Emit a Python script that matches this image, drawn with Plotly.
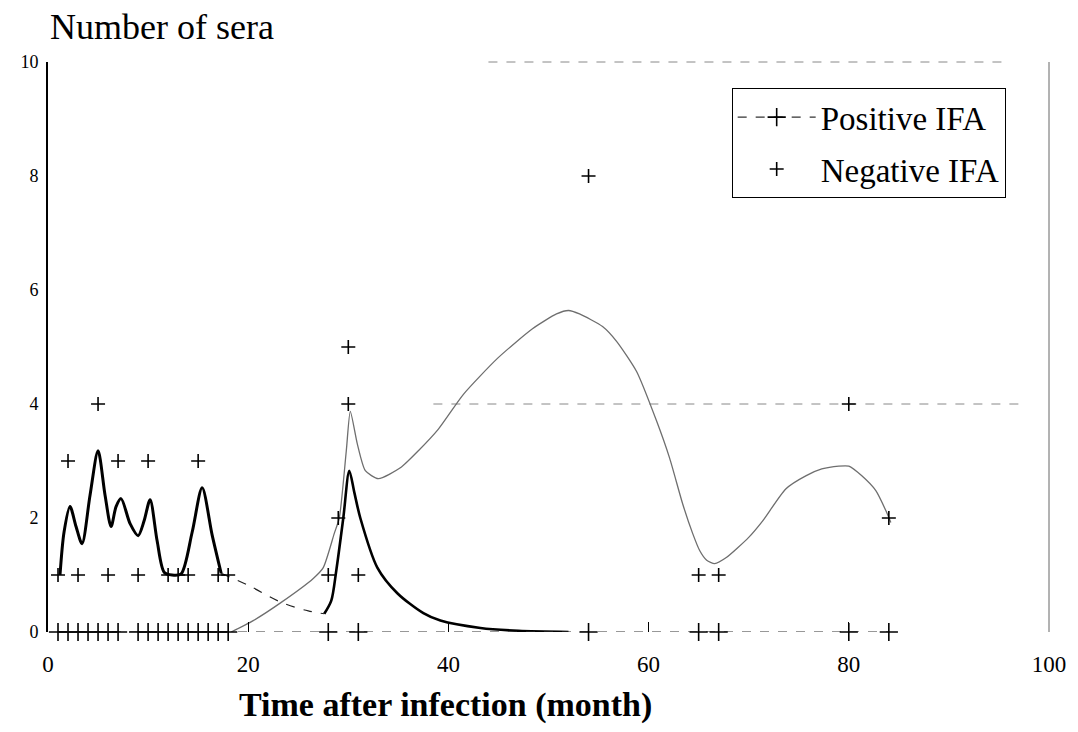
import plotly.graph_objects as go

# ---- data ----
pos_x = [1, 2, 3, 4, 5, 6, 7, 9, 10, 11, 12, 13, 14, 15, 16, 17, 18, 28, 31, 54, 65, 67, 80, 84]
pos_y = [0] * len(pos_x)

neg_x = [1, 3, 6, 9, 12, 13, 14, 17, 18, 28, 31, 65, 67,
         2, 7, 10, 15, 5, 30, 29, 84, 30, 54, 80]
neg_y = [1, 1, 1, 1, 1, 1, 1, 1, 1, 1, 1, 1, 1,
         3, 3, 3, 3, 4, 4, 2, 2, 5, 8, 4]

# smoothed curve (thick) - early part
curveA1_x = [1.2, 1.6, 2.2, 2.8, 3.4, 4.2, 5.0, 5.7, 6.3, 6.8, 7.3, 8.2, 9.0, 9.6, 10.2,
             10.9, 11.6, 12.4, 13.3, 14.4, 15.4, 16.4, 17.3]
curveA1_y = [1.0, 1.75, 2.2, 1.85, 1.55, 2.4, 3.18, 2.4, 1.85, 2.2, 2.34, 1.9, 1.69, 1.95, 2.32,
             1.6, 1.05, 1.0, 1.02, 1.75, 2.53, 1.7, 1.03]
# thin descending part
curveA2_x = [17.3, 20.0, 23.3, 26.0, 27.6]
curveA2_y = [1.03, 0.82, 0.52, 0.37, 0.32]
# thick peak and decay
curveA3_x = [27.6, 28.3, 28.8, 29.5, 30.1, 30.6, 31.2, 32.9, 34.9, 37.5, 39.2, 43.2, 47.0, 52.0]
curveA3_y = [0.32, 0.55, 1.08, 2.0, 2.83, 2.45, 2.0, 1.13, 0.68, 0.33, 0.2, 0.07, 0.02, 0.0]

# smoothed curve (thin grey)
curveB_x = [18.3, 20.5, 23.3, 26.5, 27.5, 28.6, 29.1, 29.8, 30.2, 30.9, 31.7, 33.0, 35.2, 37.0,
            39.0, 41.5, 44.9, 48.4, 50.8, 52.0, 53.1, 55.4, 56.8, 58.8, 60.8, 62.1, 63.4, 64.4,
            65.1, 65.8, 66.6, 67.8, 70.0, 71.4, 73.7, 75.7, 77.3, 79.0, 80.0, 81.3, 82.7, 83.7, 84.2]
curveB_y = [0.0, 0.2, 0.52, 0.94, 1.13, 1.73, 2.0, 3.18, 3.87, 3.3, 2.83, 2.69, 2.88, 3.18,
            3.56, 4.17, 4.8, 5.32, 5.58, 5.64, 5.58, 5.36, 5.1, 4.57, 3.7, 3.05, 2.25, 1.73,
            1.43, 1.26, 1.2, 1.31, 1.66, 1.95, 2.51, 2.74, 2.86, 2.91, 2.91, 2.74, 2.48, 2.13, 1.92]

x_ticks = [0, 20, 40, 60, 80, 100]
y_ticks = [0, 2, 4, 6, 8, 10]

SERIF = "Liberation Serif"

fig = go.Figure()

fig.add_trace(go.Scatter(x=curveB_x, y=curveB_y, mode="lines", showlegend=False,
                         line=dict(color="#6e6e6e", width=1.3, shape="spline", smoothing=0.6),
                         hoverinfo="skip"))
fig.add_trace(go.Scatter(x=curveA2_x, y=curveA2_y, mode="lines", showlegend=False,
                         line=dict(color="#222", width=1.2, dash="dash", shape="spline"),
                         hoverinfo="skip"))
fig.add_trace(go.Scatter(x=curveA1_x, y=curveA1_y, mode="lines", showlegend=False,
                         line=dict(color="black", width=3, shape="spline", smoothing=0.8),
                         hoverinfo="skip"))
fig.add_trace(go.Scatter(x=curveA3_x, y=curveA3_y, mode="lines", showlegend=False,
                         line=dict(color="black", width=2.6, shape="spline", smoothing=0.8),
                         hoverinfo="skip"))

fig.add_trace(go.Scatter(x=pos_x, y=pos_y, mode="lines+markers", name="Positive IFA",
                         legendgroup="p", cliponaxis=False,
                         line=dict(color="#333", width=1.2, dash="dash"),
                         marker=dict(symbol="cross-thin", size=13, line=dict(color="black", width=1.6))))
fig.add_trace(go.Scatter(x=neg_x, y=neg_y, mode="markers", name="Negative IFA",
                         legendgroup="n", cliponaxis=False,
                         marker=dict(symbol="cross-thin", size=10, line=dict(color="black", width=1.6))))

fig.update_layout(
    width=1070, height=724,
    margin=dict(l=38, r=26, t=54, b=100),
    paper_bgcolor="white", plot_bgcolor="white",
    font=dict(family=SERIF, color="black"),
    xaxis=dict(range=[0, 100], tickvals=x_ticks, showgrid=False, zeroline=False, showline=False,
               ticks="inside", ticklen=10, tickcolor="black", tickwidth=1,
               tickfont=dict(family=SERIF, size=23), ticklabelstandoff=16),
    yaxis=dict(range=[0, 10], tickvals=y_ticks, showgrid=False, zeroline=False,
               showline=True, linecolor="black", linewidth=2, ticks="",
               tickfont=dict(family=SERIF, size=18), ticklabelstandoff=4),
    legend=dict(x=0.683, y=0.954, xanchor="left", yanchor="top",
                bgcolor="white", bordercolor="black", borderwidth=1,
                font=dict(family=SERIF, size=33), tracegroupgap=6, itemwidth=78),
    showlegend=True,
)

# frame pieces and partial gridline
fig.add_shape(type="line", xref="paper", yref="paper", x0=0.44, x1=0.96, y0=1, y1=1,
              line=dict(color="#888", width=1, dash="dash"))
fig.add_shape(type="line", xref="paper", yref="paper", x0=1, x1=1, y0=0, y1=1,
              line=dict(color="#666", width=1))
fig.add_shape(type="line", xref="paper", yref="y", x0=0.385, x1=0.975, y0=4, y1=4,
              line=dict(color="#888", width=1, dash="dash"), layer="below")

fig.add_annotation(text="Number of sera", xref="paper", yref="paper", x=0.0, y=1.062,
                   xanchor="left", yanchor="middle", showarrow=False,
                   font=dict(family=SERIF, size=36))
fig.add_annotation(text="<b>Time after infection (month)</b>", xref="paper", yref="paper",
                   x=0.397, y=-0.128, xanchor="center", yanchor="middle", showarrow=False,
                   font=dict(family=SERIF, size=34))

fig.write_html("out.html")
